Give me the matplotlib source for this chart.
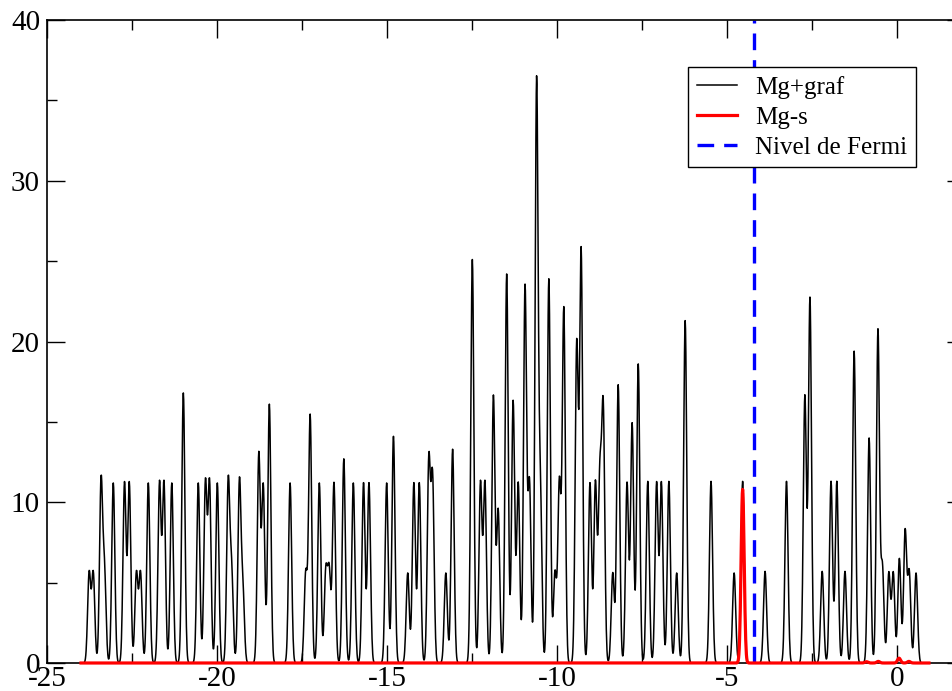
import numpy as np
import matplotlib
matplotlib.use("Agg")
import matplotlib.pyplot as plt
from matplotlib.ticker import MultipleLocator

plt.rcParams['font.family'] = ['Liberation Serif', 'DejaVu Serif']
plt.rcParams['axes.unicode_minus'] = False

# energias de los picos (eV) y alturas
mg_graf_e = [-23.76, -23.64, -23.41, -23.31, -23.05, -22.72, -22.58, -22.37, -22.25, -22.02,
             -21.69, -21.56, -21.33, -20.99, -20.55, -20.34, -20.22, -19.99, -19.67, -19.57,
             -19.34, -19.24, -18.77, -18.64, -18.46,
             -17.85, -17.39, -17.26, -16.99, -16.80, -16.70, -16.56, -16.27, -15.99, -15.69,
             -15.53, -15.01,
             -14.81, -14.39, -14.21, -14.05, -13.77, -13.66, -13.27, -13.07, -12.49, -12.25,
             -12.12, -11.87, -11.73,
             -11.48, -11.29, -11.14, -10.94, -10.81, -10.60, -10.49, -10.24, -10.06, -9.93,
             -9.80, -9.42, -9.29, -9.03, -8.87, -8.74, -8.64, -8.36, -8.20,
             -7.94, -7.79, -7.61, -7.33, -7.07, -6.93, -6.71, -6.48, -6.23, -5.47, -4.79,
             -4.54, -3.88, -3.25, -2.71, -2.56, -2.20, -1.94, -1.77, -1.53,
             -1.26, -0.82, -0.56, -0.43, -0.24, -0.11, 0.07, 0.24, 0.36, 0.56]
mg_graf_h = [5.6, 5.6, 11.2, 5.6, 11.2, 11.2, 11.2, 5.6, 5.6, 11.2,
             11.2, 11.2, 11.2, 16.8, 11.2, 11.2, 11.2, 11.2, 11.2, 5.6,
             11.2, 4.5, 13.0, 11.0, 16.1,
             11.2, 5.6, 15.4, 11.2, 5.6, 5.6, 11.2, 12.7, 11.2, 11.2,
             11.2, 11.2,
             14.1, 5.6, 11.2, 11.2, 12.5, 11.4, 5.6, 13.3, 25.1, 11.2,
             11.2, 16.6, 9.5,
             24.2, 16.3, 11.2, 23.4, 11.2, 36.0, 10.5, 23.9, 5.6, 11.2,
             22.0, 19.8, 25.6, 11.2, 11.2, 11.2, 15.5, 5.6, 17.3,
             11.2, 14.9, 18.6, 11.3, 11.2, 11.2, 11.3, 5.6, 21.3, 11.3, 5.6,
             11.3, 5.7, 11.3, 16.6, 22.7, 5.7, 11.3, 11.3, 5.7,
             19.4, 14.0, 20.7, 6.0, 5.6, 5.6, 6.5, 8.2, 5.6, 5.6]

mg_s_e = [-4.54, -0.90, -0.55, 0.06, 0.35]
mg_s_h = [10.8, 0.08, 0.10, 0.30, 0.10]

fermi = -4.2
sigma = 0.045  # ensanchamiento gaussiano

E = np.arange(-24.0, 0.95, 0.01)


def dos(energies, heights):
    y = np.zeros_like(E)
    for e0, h in zip(energies, heights):
        y += h * np.exp(-0.5 * ((E - e0) / sigma) ** 2)
    return y


fig = plt.figure(figsize=(9.53, 6.91), dpi=100)
ax = fig.add_axes([47 / 953, 28 / 691, 918 / 953, 643 / 691])

ax.plot(E, dos(mg_graf_e, mg_graf_h), color='black', lw=1.1, label='Mg+graf')
ax.plot(E, dos(mg_s_e, mg_s_h), color='red', lw=2.3, label='Mg-s',
        clip_on=False, zorder=3)
ax.axvline(fermi, color='blue', lw=2.4, dashes=(5, 3), label='Nivel de Fermi')

ax.set_xlim(-25, 2)
ax.set_ylim(0, 40)
ax.xaxis.set_major_locator(MultipleLocator(5))
ax.yaxis.set_major_locator(MultipleLocator(10))
ax.yaxis.set_minor_locator(MultipleLocator(5))
ax.xaxis.set_minor_locator(MultipleLocator(2.5))
ax.tick_params(which='both', direction='in', top=True, right=True, width=1.0,
               labelsize=21)
ax.tick_params(axis='x', pad=2)
ax.tick_params(axis='y', pad=5)
ax.tick_params(which='major', length=13)
ax.tick_params(which='minor', length=7)
for s in ax.spines.values():
    s.set_linewidth(1.2)

leg = ax.legend(loc='upper left', bbox_to_anchor=(688 / 953, 1 - 67 / 691),
                bbox_transform=fig.transFigure, borderaxespad=0, fontsize=18,
                fancybox=False, framealpha=1, edgecolor='black',
                handlelength=1.6, handletextpad=0.75, labelspacing=0.3,
                borderpad=0.35)
leg.get_frame().set_linewidth(1.0)

fig.savefig('out.png', dpi=100)
